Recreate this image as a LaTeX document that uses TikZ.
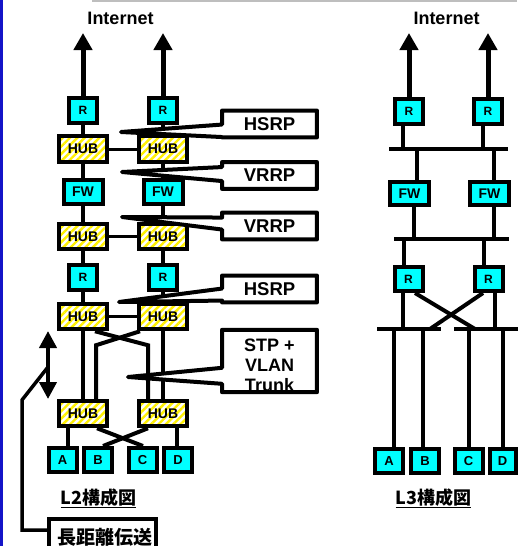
\documentclass[tikz,border=0pt]{standalone}
\usepackage{fontspec}
\setmainfont{Liberation Sans}
\newfontfamily\cjk{Noto Sans CJK JP}
\usetikzlibrary{arrows.meta,patterns.meta,backgrounds,calc}
\definecolor{cy}{RGB}{0,255,255}
\definecolor{barblue}{RGB}{20,20,200}
\definecolor{topgray}{RGB}{190,190,190}
\definecolor{stripe}{RGB}{255,240,0}
\newcommand\fs[1]{\fontsize{#1}{#1}\selectfont}
\newcommand\mycallout[4]{%
  \fill[white] ($(#1.north west)+(0,#2)$) -- (#4) -- ($(#1.north west)+(0,#3)$) -- cycle;
  \draw[cline] (#1.north west) -- (#1.north east) -- (#1.south east) -- (#1.south west)
    -- ($(#1.north west)+(0,#3)$) -- (#4) -- ($(#1.north west)+(0,#2)$) -- cycle;}
\tikzset{
  box/.style={draw, line width=4pt, inner sep=0pt},
  rbox/.style={box, fill=cy, minimum width=28pt, minimum height=25pt, font=\bfseries\fs{12}},
  fwbox/.style={box, fill=cy, minimum width=39pt, minimum height=24pt, font=\bfseries\fs{14}},
  hubbox/.style={box, preaction={fill=white}, pattern={Lines[angle=45,distance=5.2pt,line width=2.4pt]},
    pattern color=stripe, minimum width=48pt, minimum height=25.5pt, font=\bfseries\fs{14}},
  pcbox/.style={box, fill=cy, minimum width=28pt, minimum height=24pt, font=\bfseries\fs{13}},
  link/.style={line width=4pt},
  hublink/.style={line width=3pt},
  uparrow/.style={line width=5pt, -{Triangle[width=18pt,length=17pt]}},
  dblarrow/.style={line width=4pt, {Triangle[width=17pt,length=17pt]}-{Triangle[width=17pt,length=17pt]}},
  cbox/.style={fill=white, inner sep=0pt, minimum width=94.5pt, minimum height=26.5pt, font=\bfseries\fs{18.5}},
  cline/.style={line width=4pt, line join=round},
  title/.style={font=\bfseries\fs{18}},
  cjklabel/.style={font=\cjk\bfseries\fs{18}},
}
\begin{document}
\begin{tikzpicture}[x=1pt,y=-1pt]
\useasboundingbox (0,0) rectangle (517,546);
\fill[barblue] (0,0) rectangle (3,546);
\fill[topgray] (92,0) rectangle (517,2);

% ---------------- L2 ----------------
\node[title] (inet2) at (120.5,18.5) {Internet};
\coordinate (a2l) at (83,33);
\coordinate (a2r) at (163,33);
\node[rbox] (r1l) at (83,110.5) {R};
\node[rbox] (r1r) at (163,110.5) {R};
\node[hubbox] (h1l) at (83,149) {HUB};
\node[hubbox] (h1r) at (163,149) {HUB};
\node[fwbox] (fwl) at (83,192) {FW};
\node[fwbox] (fwr) at (163,192) {FW};
\node[hubbox] (h2l) at (83,236.5) {HUB};
\node[hubbox] (h2r) at (163,236.5) {HUB};
\node[rbox] (r2l) at (83,277) {R};
\node[rbox] (r2r) at (163,277) {R};
\node[hubbox] (h3l) at (83,316.5) {HUB};
\node[hubbox] (h3r) at (163,316.5) {HUB};
\node[hubbox] (h4l) at (83,413.5) {HUB};
\node[hubbox] (h4r) at (163,413.5) {HUB};
\node[pcbox] (pa) at (62.5,460) {A};
\node[pcbox] (pb) at (98,460) {B};
\node[pcbox] (pc) at (142.5,460) {C};
\node[pcbox] (pd) at (178,460) {D};
\node[cjklabel, anchor=base west] (l2) at (57,504) {\underline{L2構成図}};

\begin{scope}[on background layer]
  \draw[uparrow] (r1l.north) -- (a2l);
  \draw[uparrow] (r1r.north) -- (a2r);
  \foreach \c in {l,r}{
    \draw[link] (r1\c) -- (h1\c);
    \draw[link] (h1\c) -- (fw\c);
    \draw[link] (fw\c) -- (h2\c);
    \draw[link] (h2\c) -- (r2\c);
    \draw[link] (r2\c) -- (h3\c);
  }
  \draw[hublink] (h1l) -- (h1r);
  \draw[hublink] (h2l) -- (h2r);
  \draw[hublink] (h3l) -- (h3r);
  \draw[link] (h3l) -- (h4l);
  \draw[link] (h3r) -- (h4r);
  \draw[link] ([xshift=12pt]h3l.south) -- ++(53,14) -- ([xshift=-15pt]h4r.north);
  \draw[link] ([xshift=-23pt]h3r.south) -- ++(-44,14) -- ([xshift=13pt]h4l.north);
  \draw[link] ([xshift=-15pt]h4l.south) -- ([xshift=5.5pt]pa.north);
  \draw[link] ([xshift=14pt]h4l.south) -- ([xshift=0.5pt]pc.north);
  \draw[link] ([xshift=-15pt]h4r.south) -- ([xshift=5pt]pb.north);
  \draw[link] ([xshift=14pt]h4r.south) -- ([xshift=-1pt]pd.north);
\end{scope}

% long distance
\coordinate (da1) at (48,331);
\coordinate (da2) at (48,399);
\coordinate (dq) at (48,367);
\coordinate (bend) at (22,400);
\draw[dblarrow] (da1) -- (da2);
\node[box, minimum width=107pt, minimum height=50pt, anchor=north] (ldt) at (102.5,517) {};
\node[font=\cjk\bfseries\fs{19}] (ldtt) at (105,537) {長距離伝送};
\draw[line width=3.5pt] ($(ldt.north west)+(0,13)$) -| (bend) -- (dq);

% callouts
\node[cbox] (c1) at (269.5,124) {HSRP};
\node[cbox] (c2) at (269.5,175.5) {VRRP};
\node[cbox] (c3) at (269.5,226) {VRRP};
\node[cbox] (c4) at (269.5,289) {HSRP};
\node[cbox, minimum height=62pt] (c5) at (269.5,361) {};
\node[font=\bfseries\fontsize{18}{20}\selectfont, align=center, inner sep=0pt] (c5t) at (269.5,365) {STP +\\VLAN\\Trunk};
\coordinate (t1) at (121,132);
\coordinate (t2) at (122,172);
\coordinate (t3) at (122,217);
\coordinate (t4) at (119,302);
\coordinate (t5) at (128,377);
\mycallout{c1}{14}{26.5}{t1}
\mycallout{c2}{5}{19}{t2}
\mycallout{c3}{5}{17}{t3}
\mycallout{c4}{13}{25}{t4}
\mycallout{c5}{38}{54}{t5}

% ---------------- L3 ----------------
\node[title] (inet3) at (446.5,18.5) {Internet};
\coordinate (a3l) at (409,33);
\coordinate (a3r) at (488,33);
\node[rbox] (s1a) at (409,111.5) {R};
\node[rbox] (s1b) at (488,111.5) {R};
\node[fwbox, minimum height=23pt] (fa) at (409.5,193.5) {FW};
\node[fwbox, minimum height=23pt] (fb) at (489.5,193.5) {FW};
\node[rbox, minimum height=24pt] (s2a) at (408.5,279) {R};
\node[rbox, minimum height=24pt] (s2b) at (488.5,279) {R};
\node[pcbox] (qa) at (389,461) {A};
\node[pcbox] (qb) at (425,461) {B};
\node[pcbox] (qc) at (468.5,461) {C};
\node[pcbox, minimum width=26pt] (qd) at (502.5,461) {D};
\node[cjklabel, anchor=base west] (l3) at (392,504) {\underline{L3構成図}};

\coordinate (b1w) at (389,149);
\coordinate (b1e) at (508,149);
\coordinate (b2w) at (394,239);
\coordinate (b2e) at (509,239);
\coordinate (b3lw) at (377,329);
\coordinate (b3le) at (441,329);
\coordinate (b3rw) at (454,329);
\coordinate (b3re) at (520,329);
\coordinate (x1) at (475,329);
\coordinate (x2) at (430,329);
\begin{scope}[on background layer]
  \draw[uparrow] (s1a.north) -- (a3l);
  \draw[uparrow] (s1b.north) -- (a3r);
  \draw[link] (b1w) -- (b1e);
  \draw[link] (b2w) -- (b2e);
  \draw[link] (b3lw) -- (b3le);
  \draw[link] (b3rw) -- (b3re);
  \draw[link] ([xshift=-6pt]s1a.south) -- ([xshift=-6pt]s1a.south |- b1w);
  \draw[link] ([xshift=-5pt]s1b.south) -- ([xshift=-5pt]s1b.south |- b1w);
  \draw[link] ([xshift=7.5pt]fa.north) -- ([xshift=7.5pt]fa.north |- b1w);
  \draw[link] ([xshift=4.5pt]fb.north) -- ([xshift=4.5pt]fb.north |- b1w);
  \draw[link] ([xshift=4.5pt]fa.south) -- ([xshift=4.5pt]fa.south |- b2w);
  \draw[link] ([xshift=4.5pt]fb.south) -- ([xshift=4.5pt]fb.south |- b2w);
  \draw[link] ([xshift=-4.5pt]s2a.north) -- ([xshift=-4.5pt]s2a.north |- b2w);
  \draw[link] ([xshift=-4.5pt]s2b.north) -- ([xshift=-4.5pt]s2b.north |- b2w);
  \draw[link] ([xshift=-5.5pt]s2a.south) -- ([xshift=-5.5pt]s2a.south |- b3lw);
  \draw[link] ([xshift=6.5pt]s2b.south) -- ([xshift=6.5pt]s2b.south |- b3rw);
  \draw[link] ([xshift=6.5pt]s2a.south) -- (x1);
  \draw[link] ([xshift=-5.5pt]s2b.south) -- (x2);
  \draw[link] ([xshift=5pt]qa.north) -- ([xshift=5pt]qa.north |- b3lw);
  \draw[link] ([xshift=-2pt]qb.north) -- ([xshift=-2pt]qb.north |- b3lw);
  \draw[link] ([xshift=0.5pt]qc.north) -- ([xshift=0.5pt]qc.north |- b3rw);
  \draw[link] ([xshift=0.5pt]qd.north) -- ([xshift=0.5pt]qd.north |- b3rw);
\end{scope}
\end{tikzpicture}
\end{document}
